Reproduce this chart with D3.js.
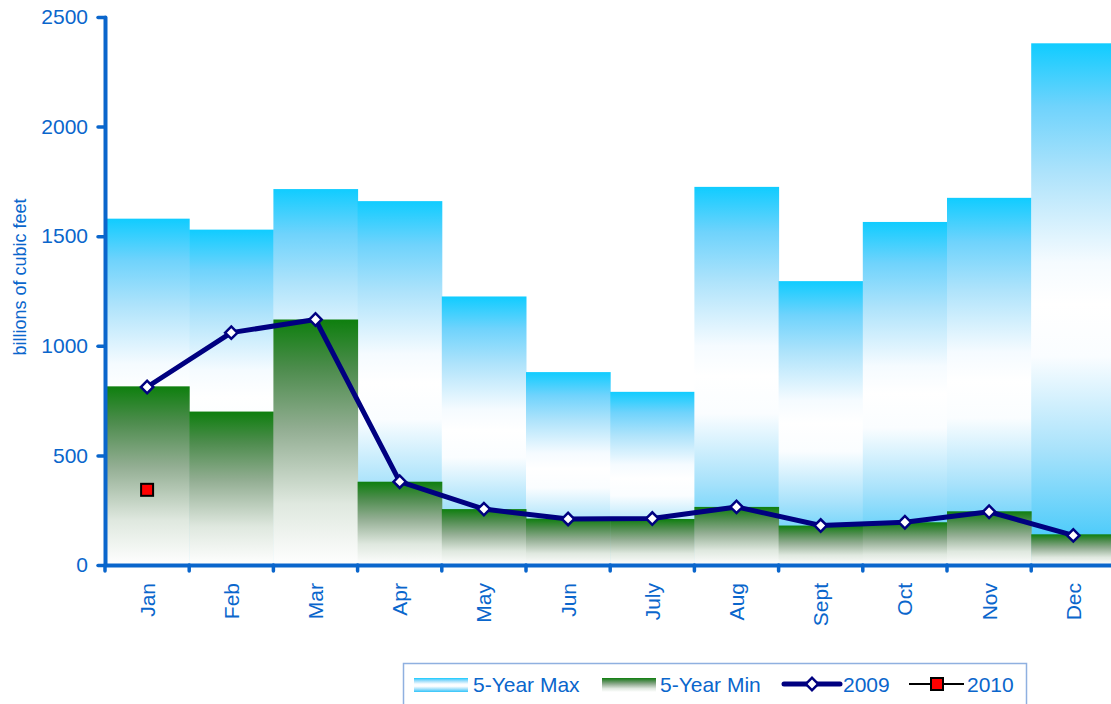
<!DOCTYPE html>
<html>
<head>
<meta charset="utf-8">
<script src="https://cdn.jsdelivr.net/npm/d3@7"></script>
<style>
  html, body { margin: 0; padding: 0; background: #fff; }
  svg { display: block; font-family: "Liberation Sans", Arial, sans-serif; }
</style>
</head>
<body>
<svg id="chart" width="1111" height="704"></svg>
<script>
const months = ["Jan","Feb","Mar","Apr","May","Jun","July","Aug","Sept","Oct","Nov","Dec"];
const max5 = [1580, 1530, 1715, 1660, 1225, 880, 790, 1725, 1295, 1565, 1675, 2380];
const min5 = [815, 700, 1120, 380, 255, 212, 210, 265, 180, 195, 245, 140];
const y2009 = [812, 1060, 1120, 380, 255, 210, 212, 265, 180, 195, 243, 135];
const y2010 = [343];
const yTicks = [0, 500, 1000, 1500, 2000, 2500];
const legendLabels = ["5-Year Max", "5-Year Min", "2009", "2010"];

const BLUE = "#0a66cc";
const NAVY = "#000080";

const svg = d3.select("#chart");
const defs = svg.append("defs");

const gMax = defs.append("linearGradient").attr("id", "gradMax")
  .attr("x1", 0).attr("y1", 0).attr("x2", 0).attr("y2", 1);
[[0, "#10ccff"], [0.12, "#6fd3fc"], [0.25, "#aee3fb"], [0.42, "#f5fbff"], [0.5, "#ffffff"],
 [0.6, "#fafdff"], [0.78, "#a8e2fb"], [1, "#30c4fa"]].forEach(([o, c]) =>
  gMax.append("stop").attr("offset", o).attr("stop-color", c));

const gMin = defs.append("linearGradient").attr("id", "gradMin")
  .attr("x1", 0).attr("y1", 0).attr("x2", 0).attr("y2", 1);
[[0, "#0e7f0e"], [0.2, "#4d8c4d"], [0.45, "#93ae93"], [0.75, "#dfe8df"], [1, "#ffffff"]]
  .forEach(([o, c]) => gMin.append("stop").attr("offset", o).attr("stop-color", c));

const x = d3.scaleBand().domain(months).range([105, 1115.4]).padding(0);
const y = d3.scaleLinear().domain([0, 2500]).range([565, 17]);

// bars
svg.append("g").selectAll("rect").data(months).join("rect")
  .attr("x", d => x(d)).attr("width", x.bandwidth() + 0.5)
  .attr("y", (d, i) => y(max5[i])).attr("height", (d, i) => y(0) - y(max5[i]))
  .attr("fill", "url(#gradMax)");
svg.append("g").selectAll("rect").data(months).join("rect")
  .attr("x", d => x(d)).attr("width", x.bandwidth() + 0.5)
  .attr("y", (d, i) => y(min5[i])).attr("height", (d, i) => y(0) - y(min5[i]))
  .attr("fill", "url(#gradMin)");

// y axis
const yAxis = svg.append("g").attr("transform", "translate(105,0)")
  .call(d3.axisLeft(y).tickValues(yTicks).tickFormat(d3.format("d"))
    .tickSize(7).tickSizeOuter(0).tickPadding(10));
yAxis.select(".domain").attr("stroke", BLUE).attr("stroke-width", 4).attr("stroke-linecap", "round");
yAxis.selectAll(".tick line").attr("stroke", BLUE).attr("stroke-width", 3.5).attr("stroke-linecap", "round");
yAxis.selectAll(".tick text").attr("fill", BLUE).attr("font-size", 21)
  .attr("font-family", "Liberation Sans, Arial, sans-serif");

// x axis (labels)
const xAxis = svg.append("g").attr("transform", "translate(0,565)")
  .call(d3.axisBottom(x).tickSize(0).tickSizeOuter(0));
xAxis.select(".domain").attr("stroke", BLUE).attr("stroke-width", 4);
xAxis.selectAll(".tick text")
  .attr("fill", BLUE).attr("font-size", 21)
  .attr("font-family", "Liberation Sans, Arial, sans-serif")
  .attr("transform", "rotate(-90)")
  .attr("text-anchor", "end")
  .attr("x", -18).attr("y", 0).attr("dy", "0.36em");
// boundary ticks
svg.append("g").selectAll("line").data(months).join("line")
  .attr("x1", d => x(d)).attr("x2", d => x(d))
  .attr("y1", 565).attr("y2", 571)
  .attr("stroke", BLUE).attr("stroke-width", 3.5).attr("stroke-linecap", "round");

// y label
svg.append("text")
  .attr("transform", "translate(20,277) rotate(-90)")
  .attr("text-anchor", "middle").attr("dy", "0.35em")
  .attr("fill", BLUE).attr("font-size", 18)
  .text("billions of cubic feet");

// 2009 line
const cx = d => x(d) + x.bandwidth() / 2;
const line = d3.line().x((d, i) => cx(months[i])).y(d => y(d));
svg.append("path").datum(y2009).attr("d", line)
  .attr("fill", "none").attr("stroke", NAVY).attr("stroke-width", 5).attr("stroke-linejoin", "round");
const diamond = d3.symbol().type(d3.symbolSquare).size(76);
svg.append("g").selectAll("path").data(y2009).join("path")
  .attr("d", diamond())
  .attr("transform", (d, i) => `translate(${cx(months[i])},${y(d)}) rotate(45)`)
  .attr("fill", "#fff").attr("stroke", NAVY).attr("stroke-width", 2.5);

// 2010
svg.append("g").selectAll("rect").data(y2010).join("rect")
  .attr("x", (d, i) => cx(months[i]) - 6).attr("y", d => y(d) - 6)
  .attr("width", 12).attr("height", 12)
  .attr("fill", "#ff0000").attr("stroke", "#000").attr("stroke-width", 2);

// legend
const lg = svg.append("g");
lg.append("rect").attr("x", 403.5).attr("y", 663.5).attr("width", 623).attr("height", 50)
  .attr("fill", "#fff").attr("stroke", "#8fb0e0").attr("stroke-width", 1.5);
lg.append("rect").attr("x", 414).attr("y", 678).attr("width", 54).attr("height", 14).attr("fill", "url(#gradMax)");
lg.append("rect").attr("x", 602).attr("y", 678).attr("width", 54).attr("height", 14).attr("fill", "url(#gradMin)");
lg.append("line").attr("x1", 784).attr("x2", 840).attr("y1", 684).attr("y2", 684)
  .attr("stroke", NAVY).attr("stroke-width", 5).attr("stroke-linecap", "round");
lg.append("path").attr("d", diamond()).attr("transform", "translate(812,684) rotate(45)")
  .attr("fill", "#fff").attr("stroke", NAVY).attr("stroke-width", 2.5);
lg.append("line").attr("x1", 909).attr("x2", 964).attr("y1", 684).attr("y2", 684)
  .attr("stroke", "#000").attr("stroke-width", 2);
lg.append("rect").attr("x", 931).attr("y", 678).attr("width", 12).attr("height", 12)
  .attr("fill", "#ff0000").attr("stroke", "#000").attr("stroke-width", 2);
const lx = [473, 660, 843, 967];
lg.selectAll("text.leg").data(legendLabels).join("text").attr("class", "leg")
  .attr("x", (d, i) => lx[i]).attr("y", 692)
  .attr("fill", BLUE).attr("font-size", 21).text(d => d);
</script>
</body>
</html>
